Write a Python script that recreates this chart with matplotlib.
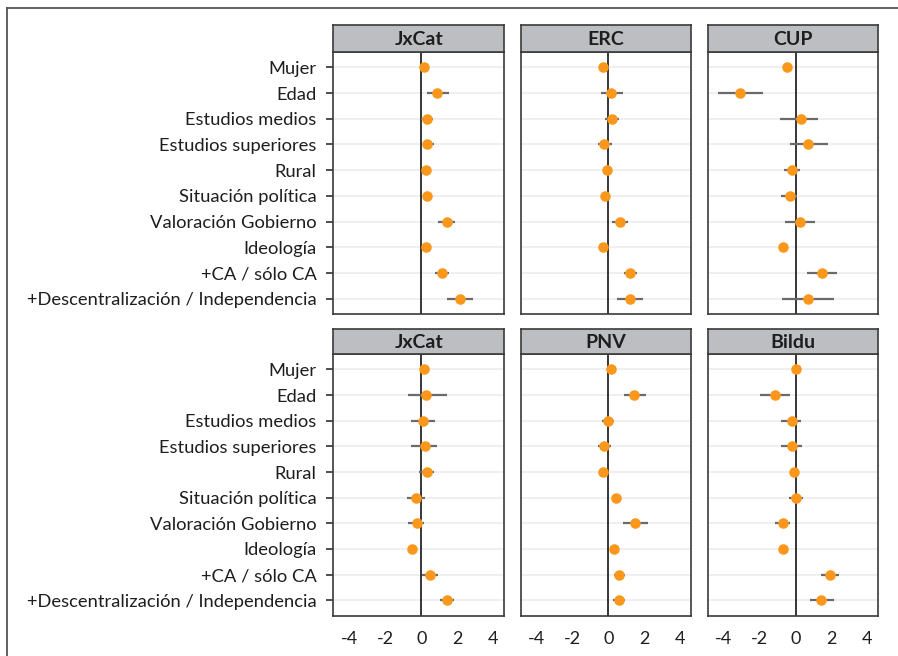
import matplotlib
matplotlib.use("Agg")
import matplotlib.pyplot as plt
from matplotlib.lines import Line2D

categories = ["Mujer", "Edad", "Estudios medios", "Estudios superiores", "Rural",
              "Situación política", "Valoración Gobierno", "Ideología",
              "+CA / sólo CA", "+Descentralización / Independencia"]

panel_titles = ["JxCat", "ERC", "CUP", "JxCat", "PNV", "Bildu"]

# Top row: Catalonia
jxcat1_est = [0.15, 0.89, 0.30, 0.30, 0.24, 0.33, 1.41, 0.24, 1.15, 2.17]
jxcat1_lo  = [0.02, 0.30, -0.04, 0.07, 0.10, 0.18, 0.94, 0.12, 0.76, 1.44]
jxcat1_hi  = [0.28, 1.56, 0.67, 0.72, 0.38, 0.48, 1.85, 0.36, 1.52, 2.87]

erc_est = [-0.30, 0.17, 0.19, -0.24, -0.07, -0.19, 0.67, -0.30, 1.22, 1.20]
erc_lo  = [-0.42, -0.43, -0.20, -0.57, -0.20, -0.32, 0.20, -0.42, 0.87, 0.50]
erc_hi  = [-0.18, 0.83, 0.57, 0.19, 0.06, -0.06, 1.11, -0.18, 1.61, 1.91]

cup_est = [-0.48, -3.07, 0.30, 0.72, -0.17, -0.30, 0.24, -0.69, 1.46, 0.69]
cup_lo  = [-0.62, -4.30, -0.85, -0.28, -0.65, -0.80, -0.57, -0.82, 0.63, -0.76]
cup_hi  = [-0.34, -1.80, 1.24, 1.83, 0.24, 0.11, 1.09, -0.56, 2.30, 2.17]

# Bottom row
jxcat2_est = [0.15, 0.28, 0.09, 0.20, 0.33, -0.30, -0.26, -0.50, 0.50, 1.43]
jxcat2_lo  = [0.02, -0.74, -0.56, -0.56, -0.11, -0.78, -0.74, -0.62, 0.04, 1.02]
jxcat2_hi  = [0.28, 1.41, 0.74, 0.89, 0.72, 0.20, 0.17, -0.38, 0.91, 1.83]

pnv_est = [0.13, 1.44, -0.02, -0.24, -0.30, 0.44, 1.50, 0.33, 0.61, 0.59]
pnv_lo  = [0.00, 0.85, -0.37, -0.57, -0.43, 0.31, 0.80, 0.20, 0.31, 0.24]
pnv_hi  = [0.26, 2.11, 0.33, 0.17, -0.17, 0.57, 2.19, 0.46, 0.94, 0.91]

bildu_est = [0.04, -1.17, -0.20, -0.22, -0.06, 0.02, -0.69, -0.69, 1.91, 1.44]
bildu_lo  = [-0.09, -1.98, -0.80, -0.80, -0.19, -0.39, -1.13, -0.82, 1.41, 0.83]
bildu_hi  = [0.17, -0.31, 0.30, 0.35, 0.07, 0.43, -0.28, -0.56, 2.43, 2.17]

x_ticks = [-4, -2, 0, 2, 4]

estimates = [jxcat1_est, erc_est, cup_est, jxcat2_est, pnv_est, bildu_est]
lows = [jxcat1_lo, erc_lo, cup_lo, jxcat2_lo, pnv_lo, bildu_lo]
highs = [jxcat1_hi, erc_hi, cup_hi, jxcat2_hi, pnv_hi, bildu_hi]

plt.rcParams['font.family'] = ['Lato', 'DejaVu Sans']
plt.rcParams['axes.unicode_minus'] = False

W, H = 898, 656
fig = plt.figure(figsize=(W / 100, H / 100), dpi=100)

col_left = [333.3, 520.7, 707.7]
col_w = [171.0, 170.3, 170.6]
row_panel = [(52.0, 314.0), (354.0, 615.7)]
row_strip = [(25.3, 52.0), (329.0, 354.0)]

border_c = "#3a3a3a"
strip_c = "#bdbec1"
orange = "#FB981C"
ci_c = "#6a6a6a"
grid_c = "#ebebeb"
text_c = "#1e1e1e"

ypos = list(range(len(categories)))

for i in range(6):
    r, c = divmod(i, 3)
    x0 = col_left[c] / W
    w = col_w[c] / W
    top, bot = row_panel[r]
    ax = fig.add_axes([x0, 1 - bot / H, w, (bot - top) / H])
    ax.set_xlim(-4.89, 4.61)
    ax.set_ylim(len(categories) - 1 + 0.6, -0.6)
    for y in ypos:
        ax.axhline(y, color=grid_c, lw=1.1, zorder=0)
    ax.axvline(0, color="black", lw=1.1, zorder=1)
    ax.hlines(ypos, lows[i], highs[i], color=ci_c, lw=1.6, zorder=2)
    ax.plot(estimates[i], ypos, 'o', color=orange, markersize=7.6,
            markeredgewidth=0, zorder=3)
    for s in ax.spines.values():
        s.set_color(border_c)
        s.set_linewidth(1.2)
    ax.set_xticks(x_ticks)
    if r == 1:
        ax.tick_params(axis='x', length=0, pad=11, labelsize=13,
                       labelcolor=text_c)
    else:
        ax.tick_params(axis='x', length=0, labelbottom=False)
    ax.set_yticks(ypos)
    if c == 0:
        ax.set_yticklabels(categories)
        ax.tick_params(axis='y', length=5, width=1.1, color=text_c, pad=7,
                       labelsize=13.2, labelcolor=text_c)
    else:
        ax.tick_params(axis='y', length=0, labelleft=False)

    stop, sbot = row_strip[r]
    sax = fig.add_axes([x0, 1 - sbot / H, w, (sbot - stop) / H])
    sax.set_xlim(0, 1)
    sax.set_ylim(0, 1)
    sax.set_facecolor(strip_c)
    sax.set_xticks([])
    sax.set_yticks([])
    for s in sax.spines.values():
        s.set_color(border_c)
        s.set_linewidth(1.2)
    sax.text(0.5, 0.47, panel_titles[i], ha='center', va='center',
             fontsize=14, fontweight='bold', color=text_c)

# figure frame (left and top edges visible)
fig.add_artist(Line2D([6.7 / W, 6.7 / W], [0, 1 - 8 / H], transform=fig.transFigure,
                      color="#555555", lw=1.3))
fig.add_artist(Line2D([6.7 / W, 1], [1 - 8 / H, 1 - 8 / H], transform=fig.transFigure,
                      color="#555555", lw=1.3))

fig.savefig("out.png", dpi=100)
